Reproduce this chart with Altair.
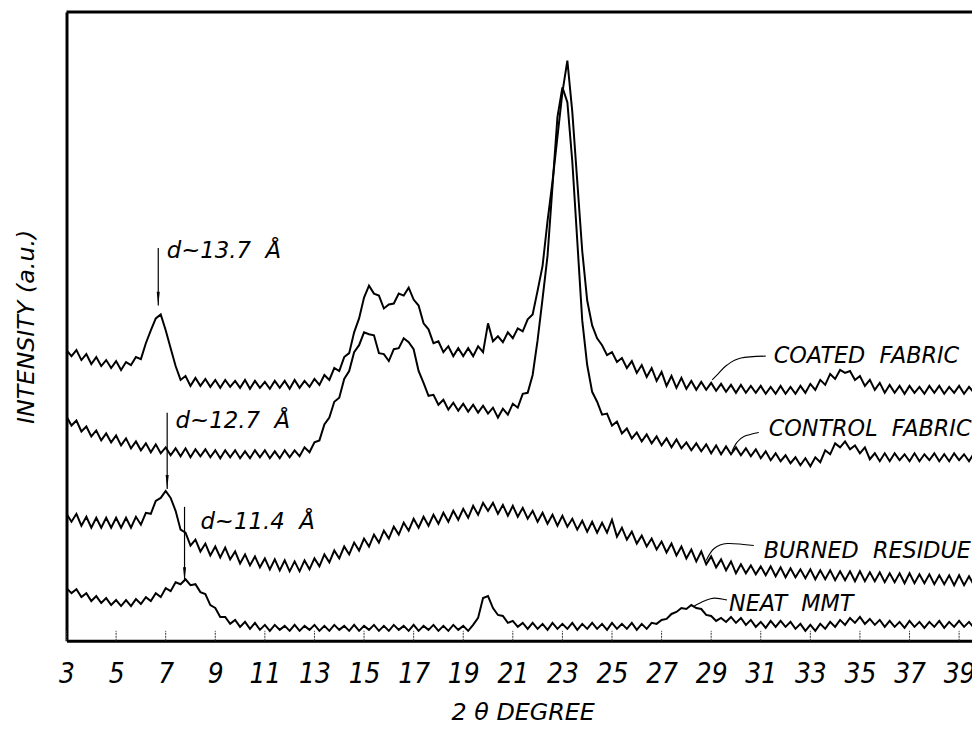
import altair as alt
import pandas as pd

# ---------------- data (intensity in arbitrary units, 2theta step 0.2 deg from 3.0) ----------------
coated = [293, 287, 293, 283, 289, 279, 286, 277, 283, 275, 282, 273, 281, 278, 286,
          284, 300, 313, 325, 329, 313, 295, 277, 263, 267, 257, 265, 257, 264, 256,
          263, 255, 263, 256, 262, 255, 263, 254, 262, 255, 261, 254, 262, 255, 262,
          254, 263, 255, 262, 256, 264, 258, 268, 263, 275, 272, 286, 290, 311, 325,
          346, 358, 350, 348, 335, 339, 340, 350, 348, 356, 344, 338, 320, 314, 300,
          302, 291, 297, 287, 295, 287, 295, 287, 297, 291, 320, 302, 307, 301, 311,
          305, 315, 312, 324, 329, 353, 378, 423, 463, 508, 553, 585, 533, 463, 393,
          343, 318, 305, 298, 288, 291, 281, 285, 275, 282, 270, 278, 266, 275, 262,
          271, 257, 267, 255, 265, 254, 262, 253, 261, 253, 260, 252, 259, 251, 258,
          250, 258, 250, 257, 250, 257, 249, 256, 249, 257, 249, 256, 249, 257, 250,
          259, 253, 263, 258, 269, 264, 273, 270, 272, 263, 267, 257, 263, 253, 260,
          250, 258, 250, 257, 249, 257, 250, 256, 249, 257, 250, 257, 249, 256, 250,
          257, 249, 256, 250, 256]

control = [226, 217, 222, 211, 216, 206, 212, 202, 209, 200, 207, 197, 204, 194, 201,
           192, 199, 190, 198, 189, 195, 187, 194, 186, 194, 185, 193, 186, 193, 185,
           192, 184, 192, 185, 192, 184, 191, 184, 192, 185, 192, 184, 191, 184, 192,
           185, 192, 186, 195, 190, 200, 202, 218, 225, 241, 245, 264, 272, 291, 298,
           311, 309, 308, 290, 289, 282, 294, 295, 305, 301, 294, 272, 260, 247, 248,
           238, 243, 233, 240, 232, 239, 231, 238, 230, 237, 229, 235, 225, 234, 228,
           239, 235, 249, 250, 268, 303, 345, 388, 458, 528, 558, 543, 483, 403, 323,
           278, 251, 241, 228, 229, 217, 221, 209, 214, 204, 210, 201, 208, 199, 206,
           197, 204, 195, 203, 194, 200, 192, 199, 191, 198, 189, 197, 188, 196, 188,
           195, 187, 194, 186, 193, 184, 191, 182, 189, 181, 187, 179, 185, 177, 184,
           176, 185, 180, 192, 188, 199, 195, 201, 193, 197, 189, 195, 183, 189, 181,
           189, 181, 189, 182, 188, 181, 189, 181, 188, 182, 189, 181, 188, 181, 189,
           182, 188, 181, 189, 182]

burned = [128, 120, 128, 116, 125, 114, 124, 114, 124, 114, 124, 114, 124, 114, 125,
          117, 129, 128, 141, 144, 151, 144, 131, 112, 109, 96, 102, 90, 98, 86,
          95, 84, 94, 82, 90, 78, 87, 76, 85, 74, 83, 72, 82, 71, 81,
          70, 80, 70, 81, 72, 83, 75, 87, 79, 91, 83, 95, 87, 99, 91,
          103, 95, 107, 99, 111, 103, 115, 107, 119, 111, 123, 114, 125, 116, 127,
          118, 129, 120, 131, 122, 133, 124, 136, 127, 139, 131, 139, 128, 137, 126,
          136, 125, 134, 123, 131, 120, 129, 118, 127, 116, 126, 115, 123, 112, 121,
          110, 120, 109, 119, 109, 122, 105, 114, 102, 110, 98, 106, 95, 103, 92,
          100, 89, 98, 86, 95, 83, 92, 80, 90, 77, 85, 74, 82, 71, 80,
          68, 77, 68, 76, 67, 75, 66, 75, 65, 74, 64, 73, 64, 72, 63,
          72, 62, 71, 62, 71, 61, 70, 61, 70, 60, 70, 60, 69, 60, 69,
          59, 68, 59, 68, 58, 68, 58, 67, 58, 67, 57, 66, 57, 66, 56,
          66, 56, 65, 56, 65]

neat = [53, 48, 52, 44, 48, 40, 45, 38, 43, 36, 41, 35, 41, 35, 42,
        37, 44, 40, 48, 44, 53, 50, 59, 57, 62, 56, 57, 49, 47, 36,
        33, 24, 24, 17, 21, 14, 19, 12, 18, 11, 16, 10, 16, 11, 15,
        10, 16, 10, 15, 11, 16, 10, 15, 10, 16, 11, 15, 10, 16, 10,
        15, 11, 16, 10, 15, 10, 16, 11, 15, 10, 16, 10, 15, 11, 16,
        10, 15, 10, 16, 11, 15, 10, 16, 23, 43, 45, 33, 26, 25, 18,
        20, 14, 18, 12, 18, 12, 17, 11, 18, 12, 17, 12, 18, 11, 17,
        12, 18, 12, 17, 11, 18, 12, 17, 12, 18, 11, 17, 12, 18, 17,
        21, 22, 27, 29, 33, 32, 36, 33, 32, 26, 25, 20, 23, 19, 24,
        18, 23, 16, 21, 14, 19, 13, 20, 14, 20, 14, 19, 12, 17, 10,
        16, 10, 17, 12, 19, 14, 21, 16, 23, 18, 24, 17, 22, 16, 21,
        14, 20, 14, 19, 13, 20, 14, 19, 13, 19, 14, 20, 13, 19, 14,
        20, 14, 19, 13, 20]

series_names = ["COATED FABRIC", "CONTROL FABRIC", "BURNED RESIDUE", "NEAT MMT"]
series_values = [coated, control, burned, neat]

tick_values = [3, 5, 7, 9, 11, 13, 15, 17, 19, 21, 23, 25, 27, 29, 31, 33, 35, 37, 39]

# d-spacing arrows
arrow_labels = ["d~13.7\u00a0\u00a0Å", "d~12.7\u00a0\u00a0Å", "d~11.4\u00a0\u00a0Å"]
arrow_x = [6.7, 7.06, 7.76]
arrow_top = [396, 230, 135]
arrow_tip = [338, 153, 60]
arrow_text_x = [7.04, 7.4, 8.4]
arrow_text_y = [386, 215, 113]

# curve labels and leader lines
curve_labels = ["COATED\u00a0\u00a0FABRIC", "CONTROL\u00a0\u00a0FABRIC", "BURNED\u00a0\u00a0RESIDUE", "NEAT\u00a0\u00a0MMT"]
label_x = [31.52, 31.32, 31.12, 29.72]
label_y = [280, 206, 83, 30]
leader_x = [[31.2, 30.2, 29.64, 29.24, 29.04],
            [30.92, 30.32, 30.04, 29.84],
            [30.72, 29.64, 29.12, 28.8],
            [29.64, 29.12, 28.72, 28.32]]
leader_y = [[287, 285, 278, 268, 263],
            [210, 206, 200, 191],
            [96, 98, 93, 81],
            [41, 43, 40, 35]]

# ---------------- tables ----------------
rows = []
for name, vals in zip(series_names, series_values):
    for i, v in enumerate(vals):
        rows.append({"series": name, "two_theta": round(3 + 0.2 * i, 1), "intensity": v})
curves_df = pd.DataFrame(rows)

arrow_df = pd.DataFrame({"x": arrow_x, "top": arrow_top, "tip": arrow_tip,
                         "tx": arrow_text_x, "ty": arrow_text_y, "label": arrow_labels})
label_df = pd.DataFrame({"x": label_x, "y": label_y, "label": curve_labels})
lrows = []
for k, (xs_, ys_) in enumerate(zip(leader_x, leader_y)):
    for j, (a, b) in enumerate(zip(xs_, ys_)):
        lrows.append({"leader": k, "order": j, "x": a, "y": b})
leader_df = pd.DataFrame(lrows)
ticks_df = pd.DataFrame({"t": tick_values})

W, H = 913, 634
XDOM = [3, 39.52]
YDOM = [0, 634]
NARROW = "Liberation Sans Narrow, DejaVu Sans Condensed, Arial Narrow, sans-serif"
SANS = "DejaVu Sans, Liberation Sans, sans-serif"

xs = alt.Scale(domain=XDOM, nice=False, zero=False)
ys = alt.Scale(domain=YDOM, nice=False, zero=False)

x_axis = alt.Axis(values=tick_values, ticks=False, grid=False, domainWidth=3, domainColor="black",
                  labelFont=NARROW, labelFontSize=28, labelFontStyle="italic", labelColor="black",
                  labelPadding=20, labelOverlap=False, labelFlush=False,
                  title="2 θ DEGREE", titleFont=SANS, titleFontSize=24, titleFontStyle="italic",
                  titleFontWeight="normal", titleColor="black", titleX=460, titleY=60,
                  titleBaseline="top", titleAlign="center")
y_axis = alt.Axis(labels=False, ticks=False, grid=False, domainWidth=3, domainColor="black",
                  title="INTENSITY (a.u.)", titleFont=SANS, titleFontSize=24, titleFontStyle="italic",
                  titleFontWeight="normal", titleColor="black", titleX=-40, titleY=317,
                  titleAngle=270, titleBaseline="middle", titleAlign="center")


def X(field):
    return alt.X(field, scale=xs, axis=x_axis)


def Y(field):
    return alt.Y(field, scale=ys, axis=y_axis)


curves = alt.Chart(curves_df).mark_line(color="black", strokeWidth=2, clip=True).encode(
    x=X("two_theta:Q"),
    y=Y("intensity:Q"),
    detail="series:N",
)

tick_marks = alt.Chart(ticks_df).mark_rule(color="#333", strokeWidth=1, strokeDash=[2, 1]).encode(
    x=X("t:Q"),
    y=alt.value(H),
    y2=alt.value(H - 10),
)

top_border = alt.Chart(pd.DataFrame({"a": [0]})).mark_rule(color="black", strokeWidth=3).encode(
    x=alt.value(0), x2=alt.value(W), y=alt.value(0)
)

arrow_lines = alt.Chart(arrow_df).mark_rule(color="black", strokeWidth=1.2).encode(
    x=X("x:Q"),
    y=Y("top:Q"),
    y2="tip:Q",
)
arrow_heads = alt.Chart(arrow_df).mark_point(
    shape="M -0.22 -1 L 0.22 -1 L 0 1 Z", filled=True, color="black", opacity=1, size=196, yOffset=-7
).encode(
    x=X("x:Q"),
    y=Y("tip:Q"),
)
arrow_text = alt.Chart(arrow_df).mark_text(
    font=SANS, fontSize=23, fontStyle="italic", align="left", baseline="alphabetic", color="black"
).encode(
    x=X("tx:Q"),
    y=Y("ty:Q"),
    text="label:N",
)

leaders = alt.Chart(leader_df).mark_line(color="black", strokeWidth=1.1, interpolate="cardinal").encode(
    x=X("x:Q"),
    y=Y("y:Q"),
    detail="leader:N",
    order="order:Q",
)
curve_text = alt.Chart(label_df).mark_text(
    font=SANS, fontSize=22.5, fontStyle="italic", align="left", baseline="alphabetic", color="black"
).encode(
    x=X("x:Q"),
    y=Y("y:Q"),
    text="label:N",
)

chart = alt.layer(
    curves, tick_marks, top_border, arrow_lines, arrow_heads, arrow_text, leaders, curve_text
).properties(
    width=W, height=H,
    autosize=alt.AutoSizeParams(type="none"),
    padding={"left": 59, "top": 1, "right": 0, "bottom": 87},
).configure_view(stroke=None).configure(background="white")

chart.save("out.html", embed_options={"renderer": "svg", "actions": False})
